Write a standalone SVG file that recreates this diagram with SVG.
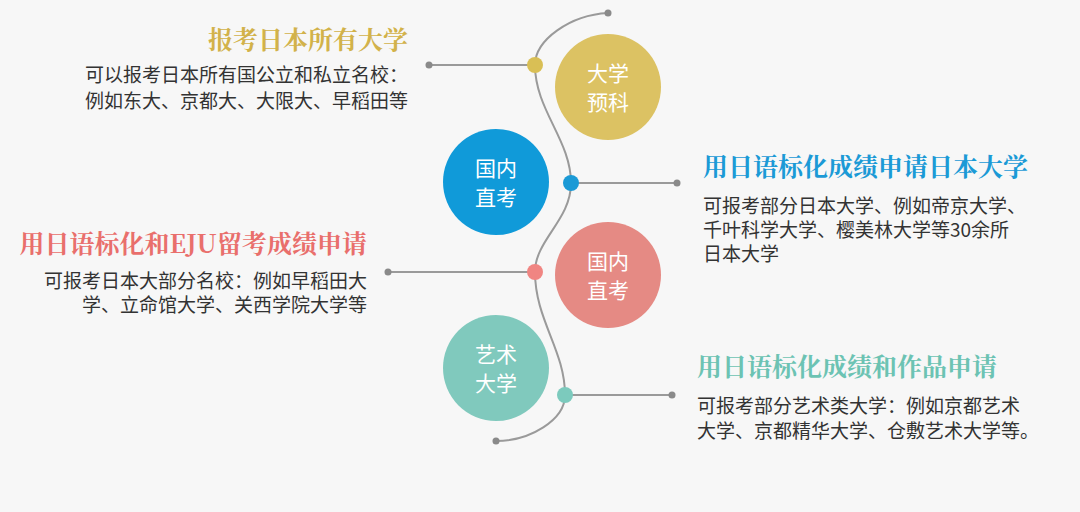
<svg xmlns="http://www.w3.org/2000/svg" width="1080" height="512" viewBox="0 0 1080 512">
<style>
.h{font-family:"Noto Serif CJK SC","Noto Sans CJK SC",serif;font-weight:bold;font-size:25px}
.b{font-family:"Noto Sans CJK SC",sans-serif;font-size:19px;fill:#333}
.c{font-family:"Noto Sans CJK SC",sans-serif;font-size:21px;fill:#fff;text-anchor:middle}
.ln{stroke:#9a9a9a;stroke-width:2;fill:none}
.e{fill:#8a8a8a}
</style>
<rect width="1080" height="512" fill="#f7f7f7"/>
<g id="connectors">
<path class="ln" stroke-width="3" d="M608,13 C570,15 535,40 535,65 C535,110 571,140 571,183 C571,220 535,240 535,272 C535,320 565,350 565,395 C565,420 530,441 496,441"/>
<circle class="e" cx="608" cy="13" r="3.5"/><circle class="e" cx="496" cy="441" r="3.5"/>
<line class="ln" x1="429" y1="65" x2="535" y2="65"/><circle class="e" cx="429" cy="65" r="3.5"/>
<line class="ln" x1="571" y1="183" x2="677" y2="183"/><circle class="e" cx="677" cy="183" r="3.5"/>
<line class="ln" x1="388" y1="272" x2="535" y2="272"/><circle class="e" cx="388" cy="272" r="3.5"/>
<line class="ln" x1="565" y1="395" x2="672" y2="395"/><circle class="e" cx="672" cy="395" r="3.5"/>
<circle cx="535" cy="65" r="8" fill="#d9bf55"/>
<circle cx="571" cy="183" r="8" fill="#1b9ad6"/>
<circle cx="535" cy="272" r="8" fill="#f08582"/>
<circle cx="565" cy="395" r="8" fill="#7ccabd"/>
</g>
<g id="n1"><circle cx="608" cy="87" r="53" fill="#dcc263"/><text class="c" x="608" y="81">大学</text><text class="c" x="608" y="110">预科</text></g>
<g id="n2"><circle cx="496" cy="182" r="53" fill="#109ad9"/><text class="c" x="496" y="176">国内</text><text class="c" x="496" y="205">直考</text></g>
<g id="n3"><circle cx="608" cy="275" r="53" fill="#e58a84"/><text class="c" x="608" y="269">国内</text><text class="c" x="608" y="298">直考</text></g>
<g id="n4"><circle cx="496" cy="368" r="53" fill="#80c9bd"/><text class="c" x="496" y="362">艺术</text><text class="c" x="496" y="391">大学</text></g>
<g id="t1" text-anchor="end">
<text class="h" x="408" y="49" fill="#d2b24a">报考日本所有大学</text>
<text class="b" x="408" y="82">可以报考日本所有国公立和私立名校：</text>
<text class="b" x="408" y="108">例如东大、京都大、大限大、早稻田等</text>
</g>
<g id="t2">
<text class="h" x="703" y="176" fill="#1b9ad6">用日语标化成绩申请日本大学</text>
<text class="b" x="703" y="213">可报考部分日本大学、例如帝京大学、</text>
<text class="b" x="703" y="237">千叶科学大学、樱美林大学等30余所</text>
<text class="b" x="703" y="261">日本大学</text>
</g>
<g id="t3" text-anchor="end">
<text class="h" x="367" y="253" fill="#e96f6c">用日语标化和EJU留考成绩申请</text>
<text class="b" x="367" y="288">可报考日本大部分名校：例如早稻田大</text>
<text class="b" x="367" y="312">学、立命馆大学、关西学院大学等</text>
</g>
<g id="t4">
<text class="h" x="697" y="376" fill="#6cc3b3">用日语标化成绩和作品申请</text>
<text class="b" x="697" y="413">可报考部分艺术类大学：例如京都艺术</text>
<text class="b" x="697" y="438">大学、京都精华大学、仓敷艺术大学等。</text>
</g>
</svg>
